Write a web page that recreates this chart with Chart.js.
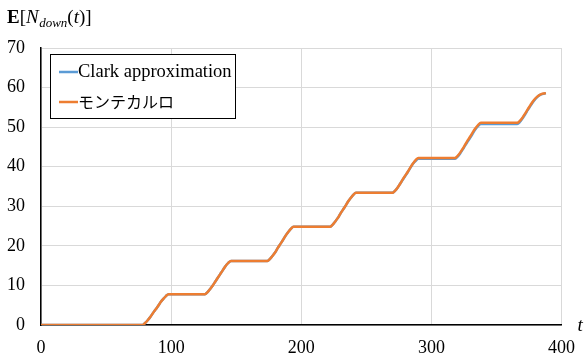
<!DOCTYPE html>
<html>
<head>
<meta charset="utf-8">
<script src="https://cdn.jsdelivr.net/npm/chart.js@4/dist/chart.umd.min.js"></script>
<style>
  html, body { margin: 0; padding: 0; background: #fff; }
  #wrap { width: 587px; height: 358px; position: relative; }
</style>
</head>
<body>
<div id="wrap"><canvas id="c" width="587" height="358"></canvas></div>
<script>
// time steps t
const tValues = [
  0, 40, 78, 80, 82, 84, 86, 88, 90, 92, 94, 96, 98,
  112, 126, 128, 130, 132, 134, 136, 138, 140, 142, 144, 146,
  160, 174, 176, 178, 180, 182, 184, 186, 188, 190, 192, 194,
  208, 222, 224, 226, 228, 230, 232, 234, 236, 238, 240, 242,
  256, 270, 272, 274, 276, 278, 280, 282, 284, 286, 288, 290,
  304, 318, 320, 322, 324, 326, 328, 330, 332, 334, 336, 338,
  352, 366, 368, 370, 372, 374, 376, 378, 380, 382, 384, 386, 388
];

// expected number of down events, Clark approximation
const clarkValues = [
  0, 0, 0, 0.5, 1.2, 2.0, 3.0, 3.9, 4.8, 5.8, 6.6, 7.3, 7.8,
  7.8, 7.8, 8.3, 9.1, 10.0, 11.0, 12.0, 13.0, 14.0, 15.0, 15.7, 16.2,
  16.2, 16.2, 16.7, 17.5, 18.4, 19.5, 20.5, 21.5, 22.6, 23.5, 24.3, 24.8,
  24.8, 24.8, 25.3, 26.1, 27.0, 28.1, 29.1, 30.1, 31.2, 32.1, 32.9, 33.4,
  33.4, 33.4, 33.9, 34.7, 35.7, 36.7, 37.7, 38.7, 39.8, 40.8, 41.5, 42.0,
  42.0, 42.0, 42.5, 43.3, 44.3, 45.4, 46.4, 47.4, 48.5, 49.5, 50.3, 50.8,
  50.8, 50.8, 51.3, 52.2, 53.2, 54.3, 55.3, 56.3, 57.1, 57.8, 58.2, 58.4, 58.6
];

// expected number of down events, Monte Carlo estimate
const monteCarloValues = [
  0, 0, 0, 0.5, 1.2, 2.0, 3.0, 3.9, 4.8, 5.8, 6.6, 7.3, 7.8,
  7.8, 7.8, 8.3, 9.1, 10.0, 11.0, 12.0, 13.0, 14.0, 15.0, 15.7, 16.2,
  16.2, 16.2, 16.7, 17.5, 18.4, 19.5, 20.5, 21.5, 22.6, 23.5, 24.3, 24.8,
  24.8, 24.8, 25.3, 26.1, 27.0, 28.1, 29.1, 30.1, 31.2, 32.1, 32.9, 33.4,
  33.4, 33.4, 33.9, 34.7, 35.7, 36.8, 37.8, 38.8, 39.9, 40.9, 41.7, 42.2,
  42.2, 42.2, 42.7, 43.5, 44.5, 45.6, 46.7, 47.7, 48.8, 49.8, 50.6, 51.1,
  51.1, 51.1, 51.6, 52.4, 53.4, 54.5, 55.5, 56.5, 57.3, 57.9, 58.3, 58.5, 58.6
];

const xTicks = [0, 100, 200, 300, 400];
const yTicks = [0, 10, 20, 30, 40, 50, 60, 70];

const seriesNames = ['Clark approximation', 'モンテカルロ'];
const seriesColors = ['#5B9BD5', '#ED7D31'];

const SERIF = '"Liberation Serif", "DejaVu Serif", serif';
const JP = '"Noto Sans CJK JP", "Noto Sans", sans-serif';

function toPoints(vals) {
  return tValues.map((t, i) => ({ x: t, y: vals[i] }));
}

// title, axis label and in-plot legend
const decorations = {
  id: 'decorations',
  afterDraw(chart) {
    const ctx = chart.ctx;
    const area = chart.chartArea;
    ctx.save();
    ctx.fillStyle = '#000';
    ctx.textBaseline = 'alphabetic';
    ctx.textAlign = 'left';

    // E[N_down(t)]
    let x = 7, y = 22.5;
    const parts = [
      { s: 'E', f: 'bold 19px ' + SERIF, dy: 0 },
      { s: '[', f: '19px ' + SERIF, dy: 0 },
      { s: 'N', f: 'italic 19px ' + SERIF, dy: 0 },
      { s: 'down', f: 'italic 13px ' + SERIF, dy: 4 },
      { s: '(', f: '19px ' + SERIF, dy: 0 },
      { s: 't', f: 'italic 19px ' + SERIF, dy: 0 },
      { s: ')]', f: '19px ' + SERIF, dy: 0 }
    ];
    parts.forEach(p => {
      ctx.font = p.f;
      ctx.fillText(p.s, x, y + p.dy);
      x += ctx.measureText(p.s).width + (p.s === 'N' ? 0.5 : 0);
    });

    // axis label t
    ctx.font = 'italic 19px ' + SERIF;
    ctx.textBaseline = 'middle';
    ctx.fillText('t', area.right + 16, area.bottom + 1);

    // legend box
    const bx = 50.5, by = 54.5, bw = 185, bh = 64;
    ctx.fillStyle = '#fff';
    ctx.fillRect(bx, by, bw, bh);
    ctx.strokeStyle = '#000';
    ctx.lineWidth = 1;
    ctx.strokeRect(bx, by, bw, bh);
    const rows = [72, 102];
    chart.data.datasets.forEach((ds, i) => {
      ctx.strokeStyle = ds.borderColor;
      ctx.lineWidth = 2.5;
      ctx.beginPath();
      ctx.moveTo(59, rows[i]);
      ctx.lineTo(78, rows[i]);
      ctx.stroke();
      ctx.fillStyle = '#000';
      ctx.textBaseline = 'middle';
      ctx.font = i === 0 ? '18.5px ' + SERIF : '16px ' + JP;
      ctx.fillText(ds.label, 78, rows[i]);
    });
    ctx.restore();
  }
};

new Chart(document.getElementById('c'), {
  type: 'line',
  data: {
    datasets: [
      {
        label: seriesNames[0],
        data: toPoints(clarkValues),
        borderColor: seriesColors[0],
        backgroundColor: seriesColors[0],
        borderWidth: 2.5,
        pointRadius: 0,
        cubicInterpolationMode: 'monotone',
        fill: false,
        order: 2
      },
      {
        label: seriesNames[1],
        data: toPoints(monteCarloValues),
        borderColor: seriesColors[1],
        backgroundColor: seriesColors[1],
        borderWidth: 2.5,
        pointRadius: 0,
        cubicInterpolationMode: 'monotone',
        fill: false,
        order: 1
      }
    ]
  },
  options: {
    responsive: false,
    animation: false,
    layout: { padding: { top: 48, right: 25, left: 0, bottom: 0 } },
    plugins: { legend: { display: false }, tooltip: { enabled: false } },
    scales: {
      x: {
        type: 'linear',
        min: 0,
        max: 400,
        afterBuildTicks(scale) { scale.ticks = xTicks.map(v => ({ value: v })); },
        afterFit(scale) { scale.height = 33; },
        grid: { color: '#d9d9d9', lineWidth: 1, drawTicks: false },
        border: { color: '#000', width: 1.5 },
        ticks: {
          color: '#000',
          font: { family: SERIF, size: 18 },
          padding: 12,
          maxRotation: 0
        }
      },
      y: {
        min: 0,
        max: 70,
        afterBuildTicks(scale) { scale.ticks = yTicks.map(v => ({ value: v })); },
        afterFit(scale) { scale.width = 41; },
        grid: { color: '#d9d9d9', lineWidth: 1, drawTicks: false },
        border: { color: '#000', width: 1.5 },
        ticks: {
          color: '#000',
          font: { family: SERIF, size: 18 },
          padding: 16
        }
      }
    }
  },
  plugins: [decorations]
});
</script>
</body>
</html>
